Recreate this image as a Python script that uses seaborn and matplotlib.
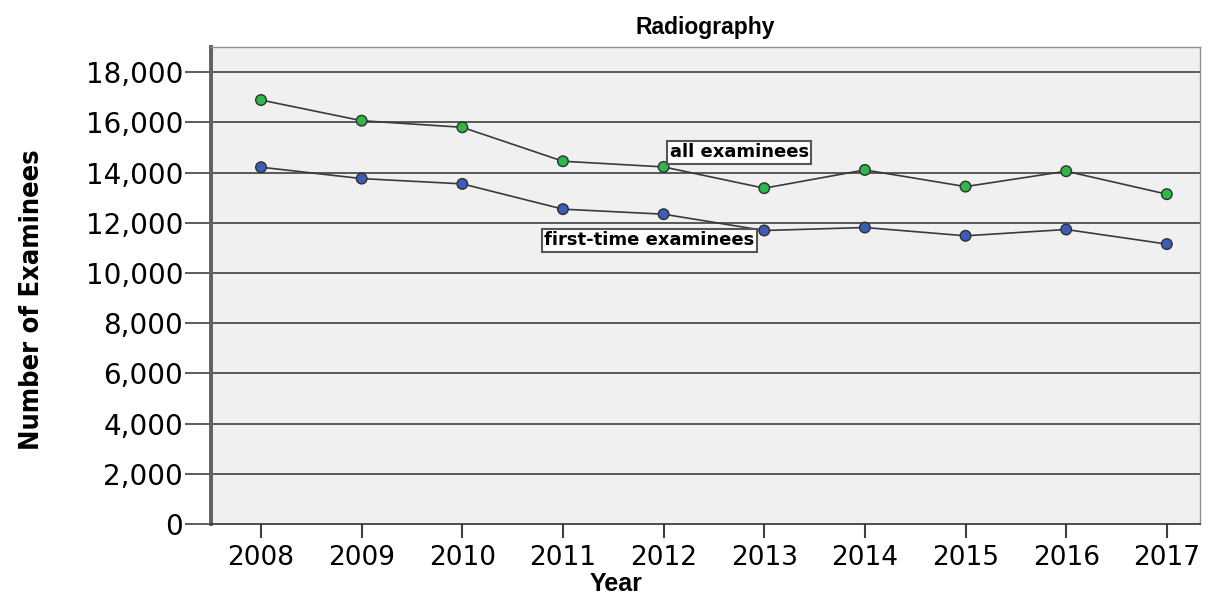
import pandas as pd
import matplotlib.pyplot as plt
import seaborn as sns
from matplotlib.ticker import StrMethodFormatter

years = [2008, 2009, 2010, 2011, 2012, 2013, 2014, 2015, 2016, 2017]
all_examinees = [16887, 16064, 15801, 14449, 14223, 13376, 14103, 13439, 14052, 13137]
first_time = [14211, 13758, 13547, 12541, 12340, 11690, 11809, 11479, 11730, 11149]
y_ticks = list(range(0, 18001, 2000))

df = pd.concat([
    pd.DataFrame({'Year': years, 'Count': all_examinees, 'Group': 'all examinees'}),
    pd.DataFrame({'Year': years, 'Count': first_time, 'Group': 'first-time examinees'}),
])
palette = {'all examinees': '#2db84a', 'first-time examinees': '#3c5cb8'}

sns.set_style('white')
plt.rcParams['font.family'] = ['DejaVu Sans']
plt.rcParams['text.color'] = 'black'
plt.rcParams['axes.labelcolor'] = 'black'

fig = plt.figure(figsize=(12.14, 6.04), dpi=100)
ax = fig.add_axes([0.1738, 0.1325, 0.8147, 0.7897])
ax.set_facecolor('#f0f0f0')

# horizontal reference lines
for y in y_ticks[1:]:
    ax.axhline(y, color='#303030', lw=1.1, zorder=1)

sns.lineplot(data=df, x='Year', y='Count', units='Group', estimator=None,
             color='#3a3a3a', lw=1.2, ax=ax, zorder=2)
sns.scatterplot(data=df, x='Year', y='Count', hue='Group', palette=palette,
                s=58, edgecolor='#303030', linewidth=1.0, legend=False, ax=ax, zorder=3)

ax.set_xlim(2007.503, 2017.33)
ax.set_ylim(0, 19000)
ax.set_xticks(years)
ax.set_yticks(y_ticks)
ax.yaxis.set_major_formatter(StrMethodFormatter('{x:,.0f}'))
ax.tick_params(axis='y', direction='out', length=19, width=1.1, color='#303030',
               labelsize=20, pad=1, left=True, labelcolor='black')
ax.tick_params(axis='x', direction='out', length=10, width=1.5, color='#404040',
               labelsize=19, pad=5, bottom=True, labelcolor='black')

for side in ['top', 'right']:
    ax.spines[side].set_color('#909090')
    ax.spines[side].set_linewidth(1)
ax.spines['left'].set_color('#606060')
ax.spines['left'].set_linewidth(2.8)
ax.spines['bottom'].set_color('#303030')
ax.spines['bottom'].set_linewidth(1.2)

box = dict(boxstyle='square,pad=0.15', fc='white', ec='#555555', lw=1.5)
ax.text(2012.75, 14800, 'all examinees', fontsize=13, fontweight='bold', ha='center', va='center',
        color='black', bbox=box, zorder=4)
ax.text(2011.86, 11300, 'first-time examinees', fontsize=13, fontweight='bold', ha='center', va='center',
        color='black', bbox=box, zorder=4)

ax.set_title('Radiography', fontsize=16.5, fontweight='bold', color='black',
             family=['Liberation Sans', 'DejaVu Sans'], pad=9)
ax.set_xlabel('Year', fontsize=18, fontweight='bold', color='black',
              family=['Liberation Sans', 'DejaVu Sans'])
ax.xaxis.set_label_coords(0.41, -0.1)
ax.set_ylabel('Number of Examinees', fontsize=19.5, fontweight='bold', color='black', fontstretch='condensed',
              family=['Liberation Sans Narrow', 'DejaVu Sans'])
ax.yaxis.set_label_coords(-0.168, 0.47)

plt.savefig('out.png', dpi=100)
plt.close()
